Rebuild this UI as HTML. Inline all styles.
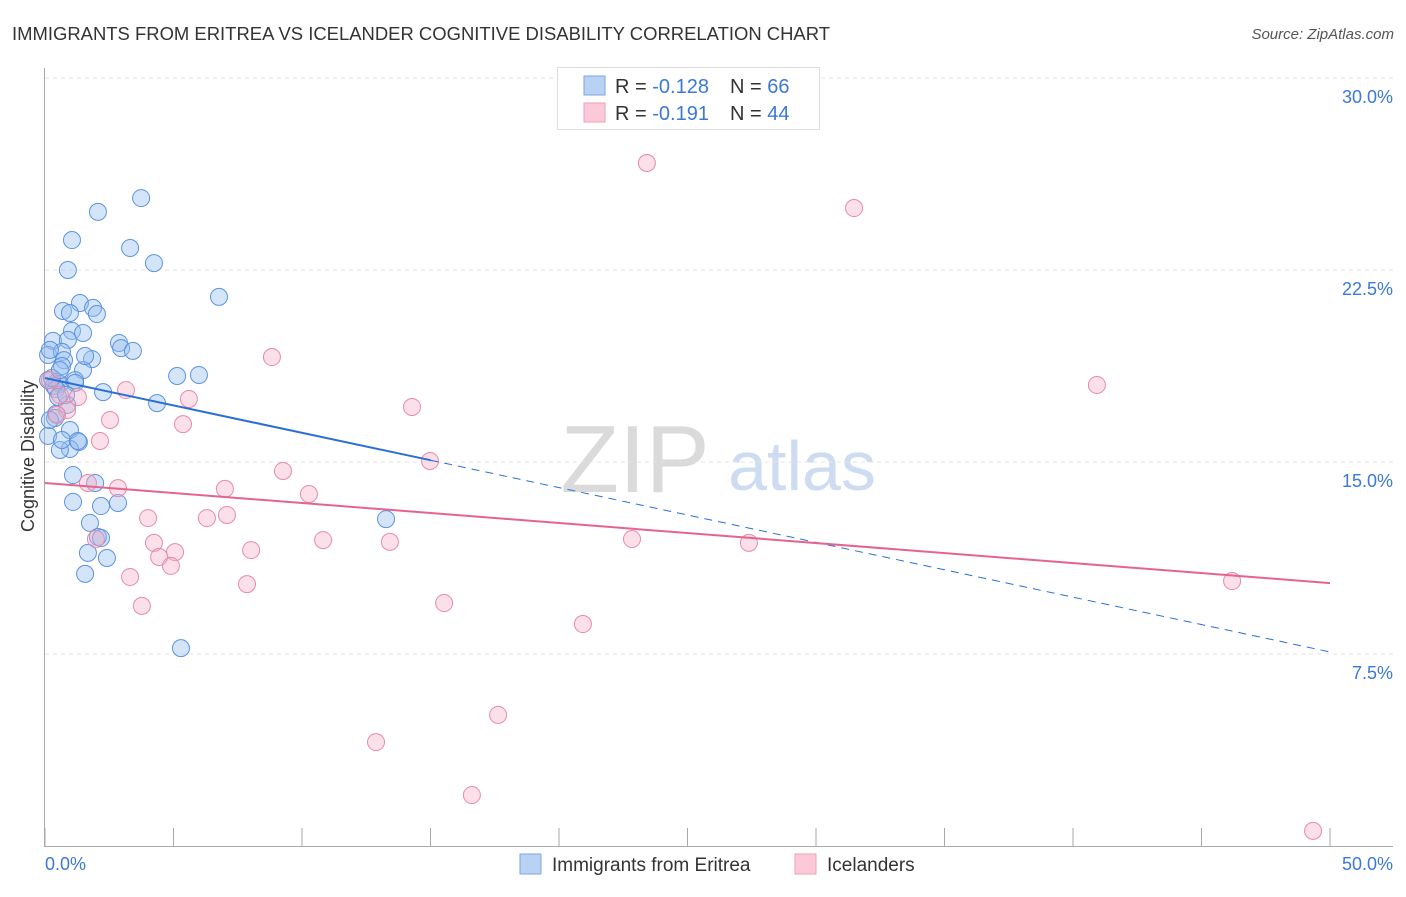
<!DOCTYPE html>
<html><head><meta charset="utf-8"><style>
body{margin:0;background:#fff;font-family:"Liberation Sans",sans-serif}
svg text{font-family:"Liberation Sans",sans-serif}
</style></head><body>
<svg id="chart" width="1406" height="892" viewBox="0 0 1406 892">
<text x="12" y="40" font-size="18" fill="#333" textLength="818" lengthAdjust="spacingAndGlyphs">IMMIGRANTS FROM ERITREA VS ICELANDER COGNITIVE DISABILITY CORRELATION CHART</text>
<text x="1394" y="39" font-size="15" fill="#555" font-style="italic" text-anchor="end">Source: ZipAtlas.com</text>
<g>
<text x="635" y="492" font-size="96" fill="#dadada" font-family="Liberation Serif,serif" text-anchor="middle">ZIP</text>
<text x="802" y="490" font-size="70" fill="#cddcf0" text-anchor="middle">atlas</text>
</g>
<g id="grid"></g>
<g id="axes"></g>
<g id="pts"></g>
<g id="lines"></g>
<text transform="translate(34,456) rotate(-90)" font-size="18" fill="#333" text-anchor="middle">Cognitive Disability</text>
<text x="45" y="870" font-size="18" fill="#3b78d8">0.0%</text>
<text x="1393" y="870" font-size="18" fill="#3b78d8" text-anchor="end">50.0%</text>
<g>
<rect x="557.5" y="67.5" width="262" height="62" fill="#fff" stroke="#ddd"/>
<rect x="584" y="76" width="21" height="19" fill="#b9d2f4" stroke="#7aa6e6"/>
<rect x="584" y="103" width="21" height="19" fill="#fcc9d8" stroke="#ef9fb8"/>
<text x="615" y="93" font-size="20" fill="#333">R = <tspan fill="#3b78d8">-0.128</tspan><tspan x="730">N = </tspan><tspan fill="#3b78d8">66</tspan></text>
<text x="615" y="120" font-size="20" fill="#333">R = <tspan fill="#3b78d8"> -0.191</tspan><tspan x="730">N = </tspan><tspan fill="#3b78d8">44</tspan></text>
</g>
<g>
<rect x="520" y="854" width="21" height="20" fill="#b9d2f4" stroke="#7aa6e6"/>
<text x="552" y="871" font-size="19" fill="#333">Immigrants from Eritrea</text>
<rect x="795" y="854" width="21" height="20" fill="#fcc9d8" stroke="#ef9fb8"/>
<text x="827" y="871" font-size="19" fill="#333">Icelanders</text>
</g>
</svg>
<script>
const yTicks=[7.5,15,22.5,30];
const yTickLabels=["7.5%","15.0%","22.5%","30.0%"];
const xTicks=[0,5,10,15,20,25,30,35,40,45,50];
const blueX=[3.74,2.06,1.05,3.31,0.89,4.24,6.77,1.36,1.87,0.70,0.97,2.02,1.05,1.48,0.31,0.89,2.88,2.96,3.42,0.12,0.66,0.74,1.83,0.66,1.48,5.14,5.99,0.12,0.47,1.17,0.58,0.35,1.17,2.26,4.36,0.86,0.43,0.39,0.97,0.12,1.32,0.97,0.58,1.09,1.95,1.09,2.84,2.18,1.75,2.06,2.18,1.67,2.41,1.56,5.29,13.27,0.19,0.43,0.27,0.51,0.66,1.28,0.58,1.56,0.19,0.82];
const blueY=[25.31,24.77,23.67,23.36,22.5,22.77,21.45,21.21,21.02,20.90,20.82,20.78,20.12,20.04,19.73,19.77,19.65,19.45,19.34,19.18,19.30,18.98,19.02,18.75,18.59,18.36,18.40,18.20,18.13,18.20,18.05,17.97,18.09,17.73,17.30,17.23,16.88,16.72,16.25,16.02,15.78,15.51,15.47,14.49,14.18,13.44,13.40,13.28,12.62,12.07,12.03,11.45,11.25,10.63,7.73,12.77,16.64,17.85,18.28,17.54,15.86,15.82,18.59,19.14,19.38,17.62];
const pinkX=[23.42,31.48,8.83,40.93,3.15,14.28,5.60,1.28,0.86,0.47,2.53,5.37,2.14,14.98,9.26,2.84,1.67,7.00,10.27,4.01,6.30,7.08,4.24,10.82,13.42,1.98,22.84,27.39,4.44,5.06,8.02,4.90,3.31,7.86,3.77,15.53,46.19,20.93,17.63,12.88,16.61,49.34,0.58,0.19];
const pinkY=[26.68,24.92,19.10,18.01,17.81,17.15,17.46,17.54,17.03,16.84,16.64,16.48,15.82,15.04,14.65,13.98,14.18,13.95,13.75,12.81,12.81,12.93,11.84,11.95,11.88,11.99,11.99,11.84,11.29,11.48,11.56,10.94,10.51,10.23,9.38,9.49,10.35,8.67,5.12,4.06,1.99,0.59,17.62,18.20];
const blueTrend=[18.28,7.58]; const blueSolidEnd=15;
const pinkTrend=[14.18,10.27];
const X0=45,X1=1330,Y0=846,YPER=25.6;
const sx=v=>X0+(X1-X0)*v/50, sy=v=>Y0-v*YPER;
const NS="http://www.w3.org/2000/svg";
function mk(t,a,p){const e=document.createElementNS(NS,t);for(const k in a)e.setAttribute(k,a[k]);p.appendChild(e);return e;}
const grid=document.getElementById('grid'),axes=document.getElementById('axes'),pts=document.getElementById('pts'),lines=document.getElementById('lines');
yTicks.forEach((t,i)=>{
 const g=mk('line',{x1:45,x2:1393,y1:sy(t),y2:sy(t),stroke:'#e3e3e3','stroke-dasharray':'4,4'},grid);
 
 
 const l=mk('text',{x:1393,y:sy(t)+25,'font-size':18,fill:'#3b78d8','text-anchor':'end'},grid);
 l.textContent=yTickLabels[i];
 
 
});
const ya=mk('line',{x1:44.5,x2:44.5,y1:68,y2:846,stroke:'#aaa'},axes);


const xa=mk('line',{x1:44,x2:1393,y1:846.5,y2:846.5,stroke:'#aaa'},axes);


xTicks.forEach(t=>{
 const k=mk('line',{x1:sx(t),x2:sx(t),y1:828,y2:846,stroke:'#aaa'},axes);
 
 
});
blueX.forEach((x,i)=>{
 const c=mk('circle',{cx:sx(x),cy:sy(blueY[i]),r:8.5,fill:'rgba(150,190,240,0.4)',stroke:'#5b93e0','stroke-width':1},pts);
 
 
});
pinkX.forEach((x,i)=>{
 const c=mk('circle',{cx:sx(x),cy:sy(pinkY[i]),r:8.5,fill:'rgba(245,175,200,0.4)',stroke:'#e88aaa','stroke-width':1},pts);
 
 
});
const bAt=x=>blueTrend[0]+(blueTrend[1]-blueTrend[0])*x/50;
const bs=mk('line',{x1:sx(0),y1:sy(bAt(0)),x2:sx(blueSolidEnd),y2:sy(bAt(blueSolidEnd)),stroke:'#2a6fd6','stroke-width':2},lines);


const bd=mk('line',{x1:sx(blueSolidEnd),y1:sy(bAt(blueSolidEnd)),x2:sx(50),y2:sy(bAt(50)),stroke:'#2a6fd6','stroke-width':1,'stroke-dasharray':'8,6'},lines);


const pl=mk('line',{x1:sx(0),y1:sy(pinkTrend[0]),x2:sx(50),y2:sy(pinkTrend[1]),stroke:'#e4638f','stroke-width':2},lines);


</script>
</body></html>
